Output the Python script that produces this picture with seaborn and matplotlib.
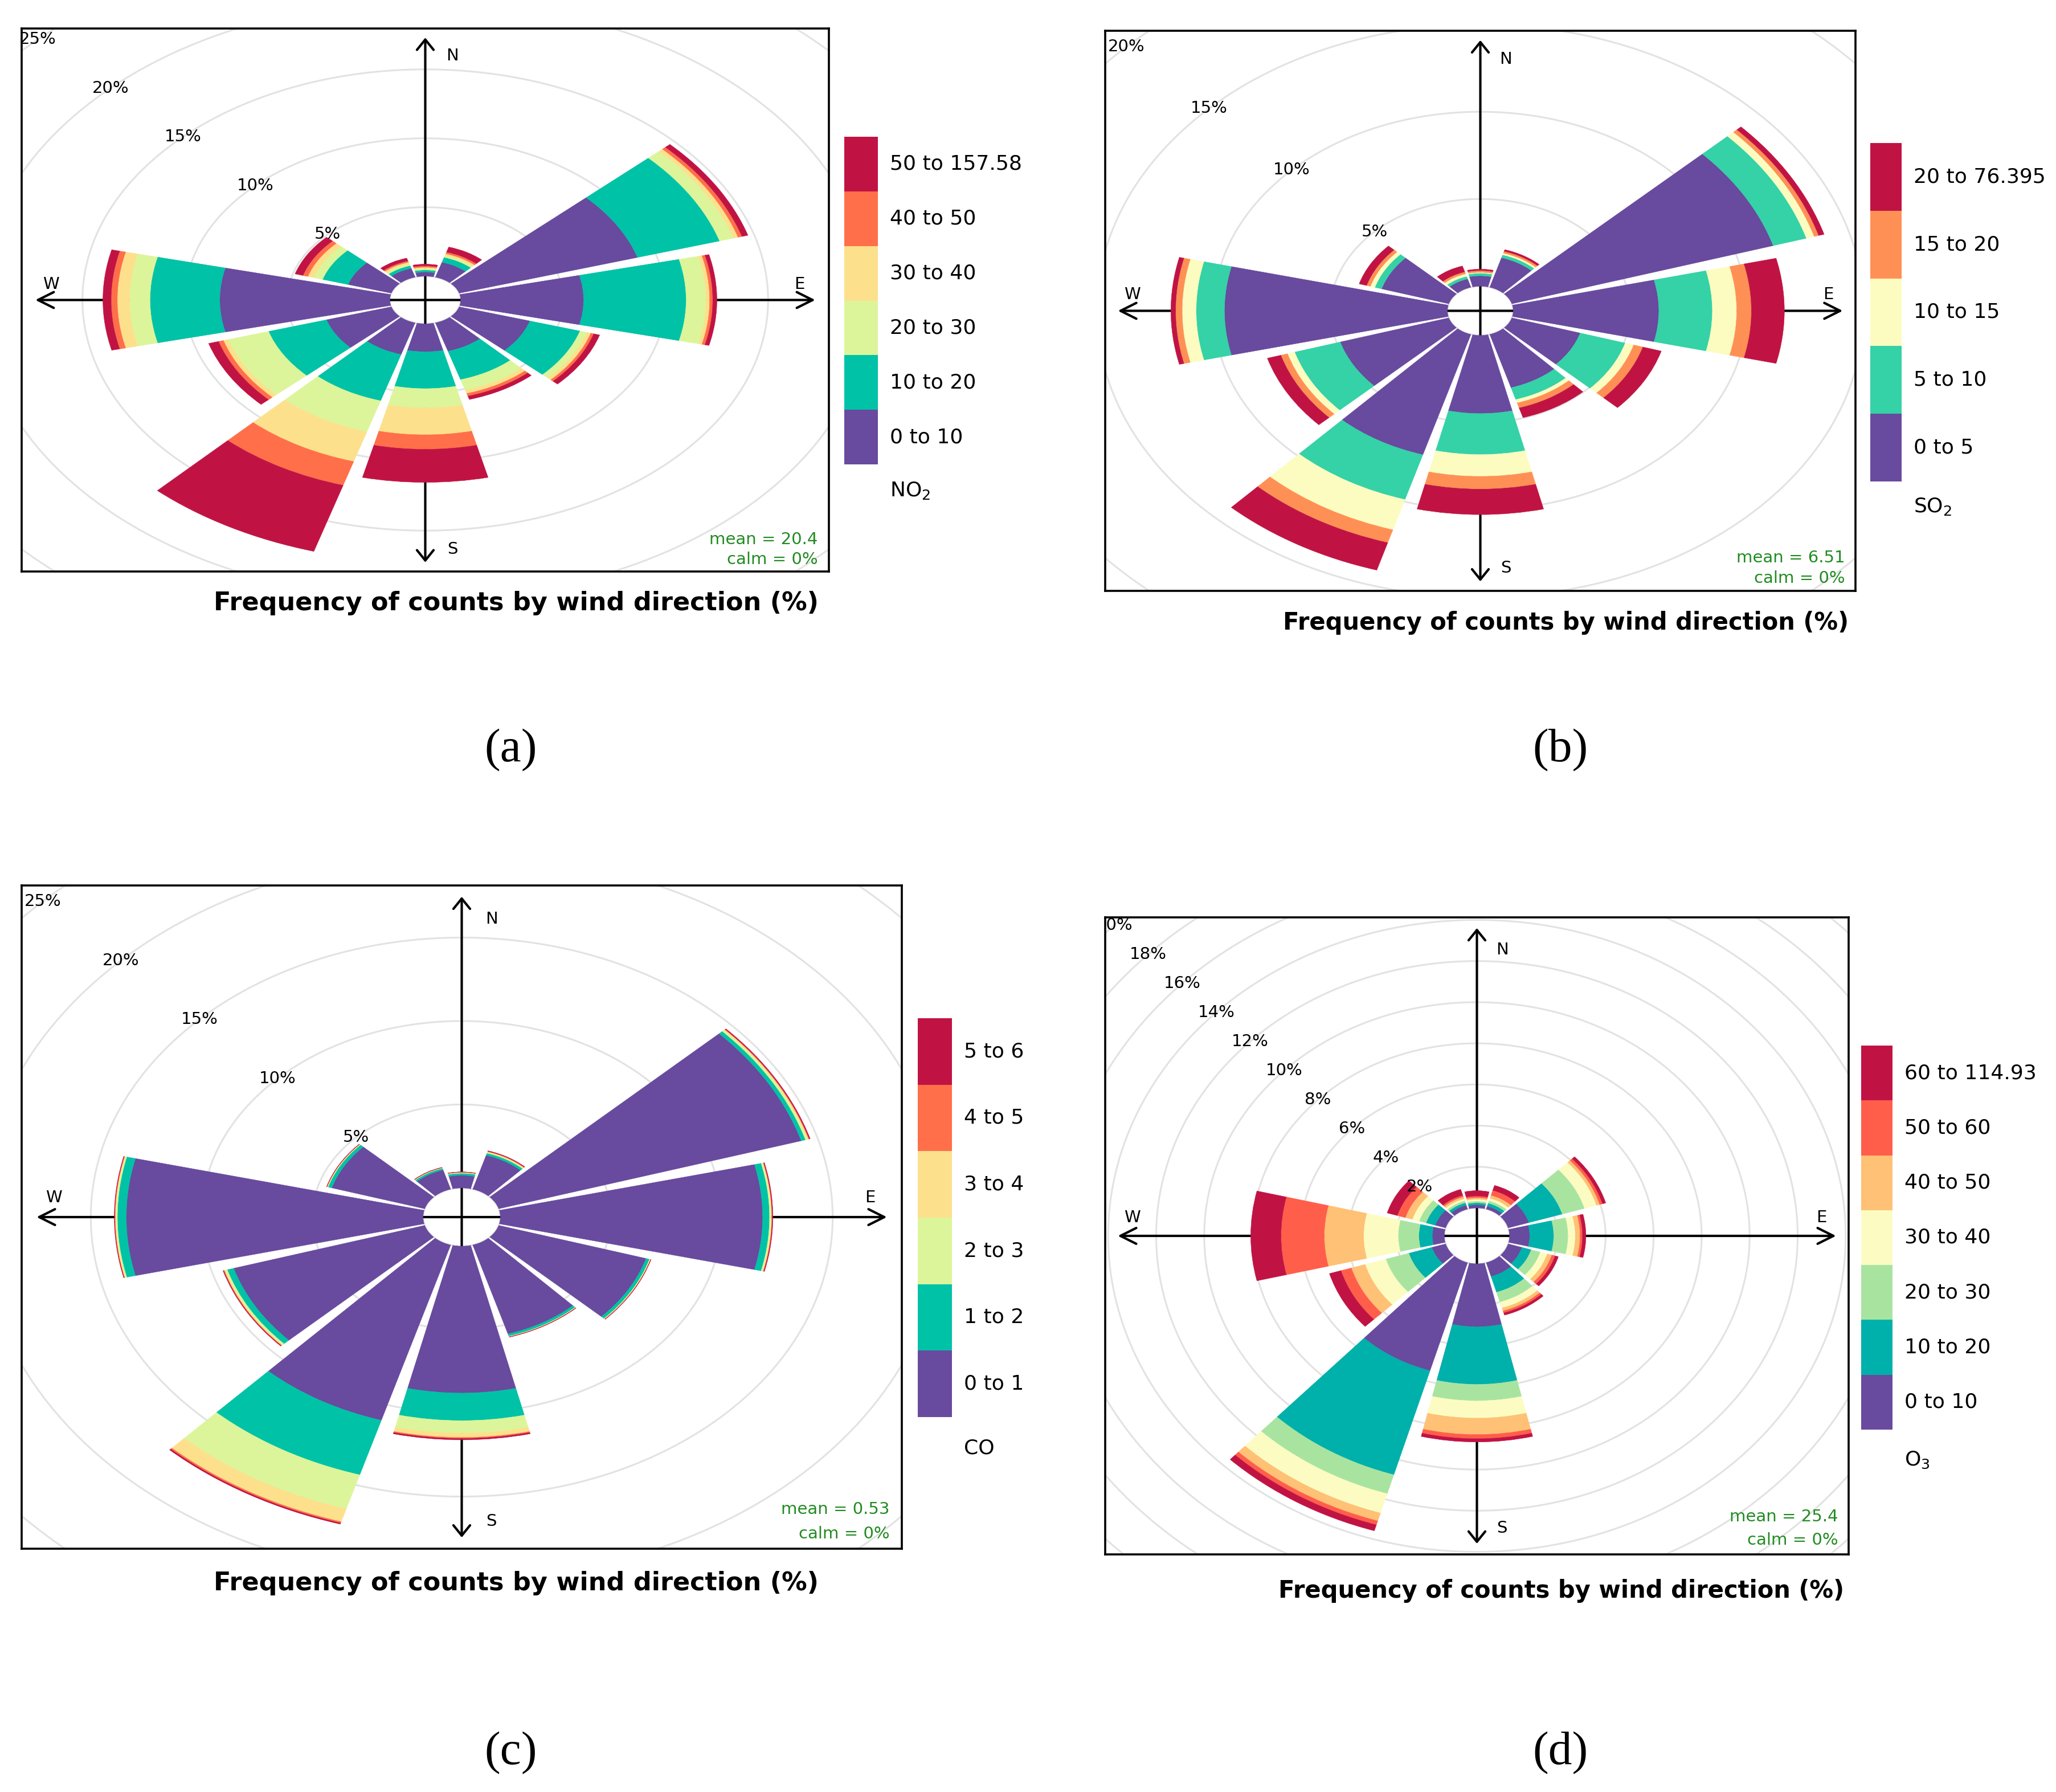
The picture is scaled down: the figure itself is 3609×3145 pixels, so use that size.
import numpy as np
import matplotlib
matplotlib.use("Agg")
import matplotlib.pyplot as plt
from matplotlib.patches import Wedge
import seaborn as sns

# ---------------- data (cumulative % per wind direction, one column per bin) -------------
directions = [30, 60, 90, 120, 150, 180, 210, 240, 270, 300, 330, 360]

no2_bins = ["0 to 10", "10 to 20", "20 to 30", "30 to 40", "40 to 50", "50 to 157.58"]
no2_cum = [
    [1.13, 1.50, 1.64, 1.77, 1.90, 2.28],
    [9.08, 13.26, 13.97, 14.20, 14.40, 14.70],
    [6.00, 11.00, 11.97, 12.15, 12.30, 12.50],
    [3.60, 6.15, 6.50, 6.70, 6.85, 7.15],
    [2.15, 4.30, 5.10, 5.35, 5.55, 5.80],
    [2.03, 4.70, 6.10, 8.05, 9.10, 11.50],
    [2.40, 5.90, 8.25, 10.50, 12.30, 17.30],
    [3.30, 6.25, 8.30, 8.55, 8.80, 9.30],
    [8.30, 11.70, 12.70, 13.30, 13.60, 14.00],
    [2.20, 3.50, 3.95, 4.25, 4.50, 4.90],
    [0.67, 0.87, 1.00, 1.13, 1.23, 1.44],
    [0.30, 0.45, 0.55, 0.65, 0.75, 0.87],
]
no2_mean = "mean = 20.4"

so2_bins = ["0 to 5", "5 to 10", "10 to 15", "15 to 20", "20 to 76.395"]
so2_cum = [
    [1.77, 1.94, 2.04, 2.15, 2.25],
    [11.67, 13.15, 13.50, 13.70, 13.94],
    [6.23, 8.52, 9.56, 10.19, 11.60],
    [3.05, 5.06, 5.44, 5.85, 6.67],
    [3.19, 3.90, 4.10, 4.40, 4.98],
    [4.48, 6.83, 8.08, 8.81, 10.27],
    [7.20, 9.88, 11.69, 12.46, 14.10],
    [4.85, 6.88, 7.20, 7.50, 8.10],
    [9.54, 10.75, 11.35, 11.63, 11.83],
    [3.00, 3.30, 3.50, 3.67, 4.00],
    [0.50, 0.65, 0.80, 0.92, 1.27],
    [0.60, 0.75, 0.80, 0.90, 0.98],
]
so2_mean = "mean = 6.51"

co_bins = ["0 to 1", "1 to 2", "2 to 3", "3 to 4", "4 to 5", "5 to 6"]
co_cum = [
    [2.12, 2.25, 2.30, 2.34, 2.37, 2.40],
    [14.25, 14.45, 14.55, 14.60, 14.63, 14.67],
    [11.84, 12.15, 12.22, 12.25, 12.27, 12.30],
    [6.94, 7.10, 7.13, 7.15, 7.16, 7.17],
    [5.56, 5.70, 5.73, 5.74, 5.75, 5.76],
    [8.80, 10.45, 11.20, 11.46, 11.52, 11.60],
    [10.96, 14.37, 16.50, 17.30, 17.38, 17.45],
    [9.00, 9.30, 9.40, 9.44, 9.47, 9.50],
    [13.40, 13.80, 13.87, 13.90, 13.92, 13.94],
    [4.38, 4.55, 4.58, 4.60, 4.61, 4.62],
    [1.20, 1.30, 1.33, 1.34, 1.35, 1.36],
    [0.76, 0.88, 0.92, 0.94, 0.95, 0.96],
]
co_mean = "mean = 0.53"

o3_bins = ["0 to 10", "10 to 20", "20 to 30", "30 to 40", "40 to 50", "50 to 60", "60 to 114.93"]
o3_cum = [
    [0.15, 0.30, 0.42, 0.55, 0.70, 0.95, 1.20],
    [0.90, 2.35, 3.32, 3.84, 3.98, 4.10, 4.24],
    [0.84, 1.84, 2.44, 2.74, 2.94, 3.04, 3.18],
    [0.60, 1.00, 1.40, 1.70, 1.90, 2.04, 2.18],
    [0.70, 1.50, 2.00, 2.30, 2.45, 2.55, 2.66],
    [3.06, 5.86, 6.66, 7.50, 8.30, 8.50, 8.66],
    [5.48, 10.76, 11.72, 12.70, 13.10, 13.30, 13.60],
    [0.60, 1.60, 2.60, 3.50, 4.10, 4.55, 5.05],
    [0.50, 1.06, 1.92, 3.36, 5.00, 6.80, 8.06],
    [0.45, 0.85, 1.15, 1.45, 1.75, 2.10, 2.54],
    [0.20, 0.32, 0.42, 0.52, 0.62, 0.70, 1.00],
    [0.15, 0.25, 0.33, 0.42, 0.50, 0.58, 0.84],
]
o3_mean = "mean = 25.4"

calm_text = "calm = 0%"
xlabel_text = "Frequency of counts by wind direction (%)"
ring_steps = {"a": 5, "b": 5, "c": 5, "d": 2}

# ---------------- styles ----------------
sns.set_theme(style="white")
plt.rcParams["font.family"] = ["DejaVu Sans"]
plt.rcParams["text.color"] = "black"

pal6 = sns.color_palette(["#684A9E", "#00C2A6", "#DCF59A", "#FDE08C", "#FF6F4A", "#C01343"])
pal5 = sns.color_palette(["#684A9E", "#34D2A6", "#FCFCC0", "#FF9055", "#C01343"])
pal7 = sns.color_palette(["#684A9E", "#00B0AA", "#A8E4A0", "#FCFCC2", "#FEC175", "#FF5E4B", "#C01343"])

W, H = 3609, 3145
DPI = 100
fig = plt.figure(figsize=(W / DPI, H / DPI), dpi=DPI)
fig.patch.set_facecolor("white")

HALF = 13.4  # half angular width of each wedge (deg)


def fig_rect(x0, y0, x1, y1):
    return [x0 / W, 1 - y1 / H, (x1 - x0) / W, (y1 - y0) / H]


def draw_rose(box, cum, colors, step, mean_txt):
    ax = fig.add_axes(fig_rect(*box))
    cum = np.asarray(cum, dtype=float)
    tmax = cum[:, -1].max()
    hole = 0.1 * tmax
    L = tmax + hole
    lim = 1.035 * L
    ax.set_xlim(-lim, lim)
    ax.set_ylim(-lim, lim)
    ax.set_xticks([])
    ax.set_yticks([])
    for s in ax.spines.values():
        s.set_color("black")
        s.set_linewidth(2.6)
        s.set_zorder(10)

    # grid rings
    th = np.linspace(0, 2 * np.pi, 721)
    k = 0
    while hole + k * step < lim * 1.5:
        r = hole + k * step
        ax.plot(r * np.cos(th), r * np.sin(th), color="#E2E2E2", lw=2.2, zorder=1)
        if k > 0:
            ax.text(-r * np.sin(np.pi / 4), r * np.cos(np.pi / 4), f"{k * step}%",
                    ha="center", va="center", fontsize=21, color="black",
                    clip_on=True, zorder=6)
        k += 1

    # axes arrows
    ax.annotate("", xy=(L, 0), xytext=(-L, 0), zorder=1.5,
                arrowprops=dict(arrowstyle="<->,head_length=20,head_width=10",
                                mutation_scale=1, lw=3.0, color="black",
                                shrinkA=0, shrinkB=0))
    ax.annotate("", xy=(0, L), xytext=(0, -L), zorder=1.5,
                arrowprops=dict(arrowstyle="<->,head_length=13,head_width=10.5",
                                mutation_scale=1, lw=3.0, color="black",
                                shrinkA=0, shrinkB=0))
    ax.text(0.07 * L, 0.93 * L, "N", ha="center", va="center", fontsize=21, zorder=6)
    ax.text(0.07 * L, -0.95 * L, "S", ha="center", va="center", fontsize=21, zorder=6)
    ax.text(0.96 * L, 0.06 * L, "E", ha="center", va="center", fontsize=21, zorder=6)
    ax.text(-0.96 * L, 0.06 * L, "W", ha="center", va="center", fontsize=21, zorder=6)

    # wedges
    for d, row in zip(directions, cum):
        t1 = 90 - d - HALF
        t2 = 90 - d + HALF
        prev = 0.0
        for j, v in enumerate(row):
            if v > prev:
                ax.add_patch(Wedge((0, 0), hole + v, t1, t2, width=v - prev,
                                   facecolor=colors[j], edgecolor=colors[j],
                                   lw=0.4, zorder=2))
            prev = v

    ax.text(0.986, 0.059, mean_txt, transform=ax.transAxes, ha="right", va="center",
            color="#228B22", fontsize=21, zorder=7)
    ax.text(0.986, 0.022, calm_text, transform=ax.transAxes, ha="right", va="center",
            color="#228B22", fontsize=21, zorder=7)
    return ax


def draw_key(bar, labels, colors, title, title_y):
    x0, y0, x1, y1 = bar
    cax = fig.add_axes(fig_rect(x0, y0, x1, y1))
    n = len(labels)
    cax.bar(np.zeros(n), np.ones(n), bottom=np.arange(n), width=1.0,
            color=colors, align="center", linewidth=0)
    cax.set_xlim(-0.5, 0.5)
    cax.set_ylim(0, n)
    cax.axis("off")
    lx = x1 + 21
    hseg = (y1 - y0) / n
    for i, lab in enumerate(labels):
        yc = y1 - (i + 0.5) * hseg
        fig.text(lx / W, 1 - yc / H, lab, ha="left", va="center", fontsize=26)
    fig.text(lx / W, 1 - title_y / H, title, ha="left", va="center", fontsize=26)


# ---------------- layout (pixels) ----------------
panels = [
    dict(box=(38, 50, 1455, 1003), cum=no2_cum, colors=pal6, step=ring_steps["a"], mean=no2_mean,
         bar=(1482, 240, 1541, 815), labels=no2_bins, title="NO$_2$", ty=861,
         xl=(906, 1059, 32), tag=("(a)", 897, 1317)),
    dict(box=(1940, 54, 3257, 1037), cum=so2_cum, colors=pal5, step=ring_steps["b"], mean=so2_mean,
         bar=(3283, 251, 3338, 845), labels=so2_bins, title="SO$_2$", ty=889,
         xl=(2749, 1093, 30), tag=("(b)", 2739, 1317)),
    dict(box=(38, 1554, 1583, 2718), cum=co_cum, colors=pal6, step=ring_steps["c"], mean=co_mean,
         bar=(1611, 1787, 1671, 2487), labels=co_bins, title="CO", ty=2542,
         xl=(906, 2778, 32), tag=("(c)", 897, 3077)),
    dict(box=(1940, 1610, 3245, 2728), cum=o3_cum, colors=pal7, step=ring_steps["d"], mean=o3_mean,
         bar=(3267, 1835, 3322, 2509), labels=o3_bins, title="O$_3$", ty=2562,
         xl=(2741, 2792, 30), tag=("(d)", 2739, 3077)),
]

for p in panels:
    draw_rose(p["box"], p["cum"], p["colors"], p["step"], p["mean"])
    draw_key(p["bar"], p["labels"], p["colors"], p["title"], p["ty"])
    xc, yc, fs = p["xl"]
    fig.text(xc / W, 1 - yc / H, xlabel_text, ha="center", va="center",
             fontsize=fs, fontweight="bold", color="black")
    t, tx, ty = p["tag"]
    fig.text(tx / W, 1 - ty / H, t, ha="center", va="center", fontsize=60,
             family=["Liberation Serif", "DejaVu Serif"], color="black")

fig.savefig("out.png", dpi=DPI, facecolor="white")
